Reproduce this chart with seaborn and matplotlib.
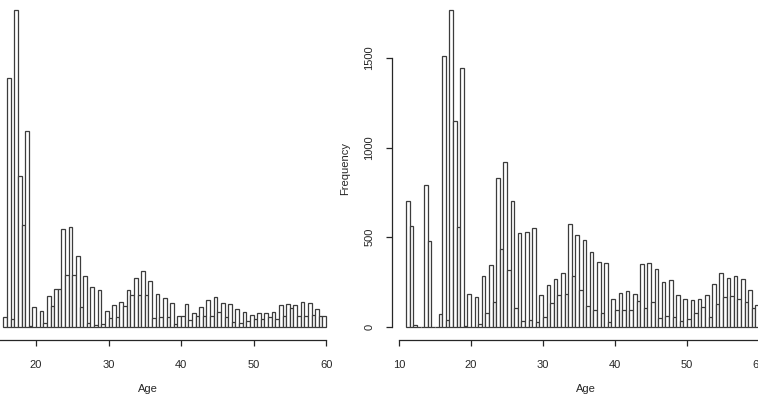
"""Two age histograms in base-R style (half-year bins), cropped canvas."""

import matplotlib

matplotlib.use("Agg")
import matplotlib.pyplot as plt
import numpy as np
import pandas as pd
import seaborn as sns

# ---- data: counts per half-year bin ----
left_start = 15.5
left_counts = [
    57, 1390, 43, 1768, 844, 567, 1093, 3, 110, 0,       # 15.5 - 20.0
    91, 20, 173, 117, 210, 210, 546, 288, 556, 288,      # 20.5 - 25.0
    398, 112, 286, 20, 221, 11, 205, 15, 91, 48,         # 25.5 - 30.0
    121, 58, 139, 117, 205, 177, 275, 180, 314, 177,     # 30.5 - 35.0
    258, 48, 184, 54, 160, 54, 132, 15, 63, 63,          # 35.5 - 40.0
    127, 39, 80, 60, 110, 61, 150, 61, 165, 84,          # 40.5 - 45.0
    132, 54, 127, 30, 102, 20, 84, 35, 67, 45,           # 45.5 - 50.0
    76, 43, 80, 54, 84, 43, 123, 61, 127, 104,           # 50.5 - 55.0
    123, 61, 141, 61, 136, 67, 102, 61, 61,              # 55.5 - 59.5
]

right_start = 11.0
right_counts = [
    700, 565, 12, 0, 0, 790, 480, 0, 0, 70,              # 11.0 - 15.5
    1510, 40, 1765, 1150, 555, 1445, 8, 186, 0, 168,     # 16.0 - 20.5
    15, 285, 78, 348, 140, 833, 434, 920, 320, 702,      # 21.0 - 25.5
    108, 523, 36, 527, 40, 552, 28, 176, 57, 232,        # 26.0 - 30.5
    136, 266, 180, 299, 186, 573, 286, 515, 206, 485,    # 31.0 - 35.5
    117, 420, 95, 364, 76, 355, 26, 158, 95, 187,        # 36.0 - 40.5
    95, 203, 95, 182, 147, 350, 108, 355, 141, 323,      # 41.0 - 45.5
    52, 253, 60, 260, 56, 177, 32, 154, 45, 151,         # 46.0 - 50.5
    80, 158, 112, 177, 58, 240, 130, 303, 167, 275,      # 51.0 - 55.5
    171, 283, 154, 266, 141, 206, 104, 120, 60,          # 56.0 - 60.0
]

bin_width = 0.5
x_ticks = [10, 20, 30, 40, 50, 60]
y_ticks = [0, 500, 1000, 1500]

INK = "#262626"

plt.rcParams["font.family"] = ["Liberation Sans", "DejaVu Sans"]
plt.rcParams["font.size"] = 8


def draw_hist(ax, start, counts, xlim):
    counts = np.asarray(counts, dtype=float)
    lo = start
    hi = start + bin_width * len(counts)
    df = pd.DataFrame({
        "age": lo + bin_width * np.arange(len(counts)) + bin_width / 2,
        "n": counts,
    })
    sns.histplot(
        data=df,
        x="age",
        weights="n",
        binwidth=bin_width,
        binrange=(lo, hi),
        ax=ax,
        color="white",
        edgecolor="#3c3c3c",
        linewidth=0.9,
        alpha=1,
    )
    ymax = counts.max()
    ax.set_ylim(-0.04 * ymax, 1.04 * ymax)
    ax.set_xlim(*xlim)

    for side in ("top", "right", "left"):
        ax.spines[side].set_visible(False)
    ax.spines["bottom"].set_bounds(x_ticks[0], x_ticks[-1])
    ax.spines["bottom"].set_color(INK)
    ax.spines["bottom"].set_linewidth(0.9)
    ax.set_xticks(x_ticks)
    ax.tick_params(axis="x", direction="out", length=4.5, width=0.9,
                   color=INK, labelcolor=INK, pad=10, labelsize=8)
    ax.set_xlabel("Age", color=INK, fontsize=8, labelpad=10)
    ax.set_facecolor("white")


fig = plt.figure(figsize=(7.58, 4.04), dpi=100)

# left panel: its y axis sits outside the cropped canvas
ax_left = fig.add_axes([-0.0577, 0.1592, 0.5070, 0.8468])
draw_hist(ax_left, left_start, left_counts, (9, 62))
ax_left.set_yticks([])
ax_left.set_ylabel("")

# right panel: runs past the right edge of the canvas
ax_right = fig.add_axes([0.5169, 0.1592, 0.5129, 0.8468])
draw_hist(ax_right, right_start, right_counts, (9, 63))
ax_right.spines["left"].set_visible(True)
ax_right.spines["left"].set_bounds(y_ticks[0], y_ticks[-1])
ax_right.spines["left"].set_color(INK)
ax_right.spines["left"].set_linewidth(0.9)
ax_right.set_yticks(y_ticks)
ax_right.set_yticklabels([str(t) for t in y_ticks], rotation=90, va="center")
ax_right.tick_params(axis="y", direction="out", length=4.5, width=0.9,
                     color=INK, labelcolor=INK, pad=8, labelsize=8)
ax_right.set_ylabel("Frequency", color=INK, fontsize=8, labelpad=10)

fig.savefig("out.png", dpi=100, facecolor="white")
